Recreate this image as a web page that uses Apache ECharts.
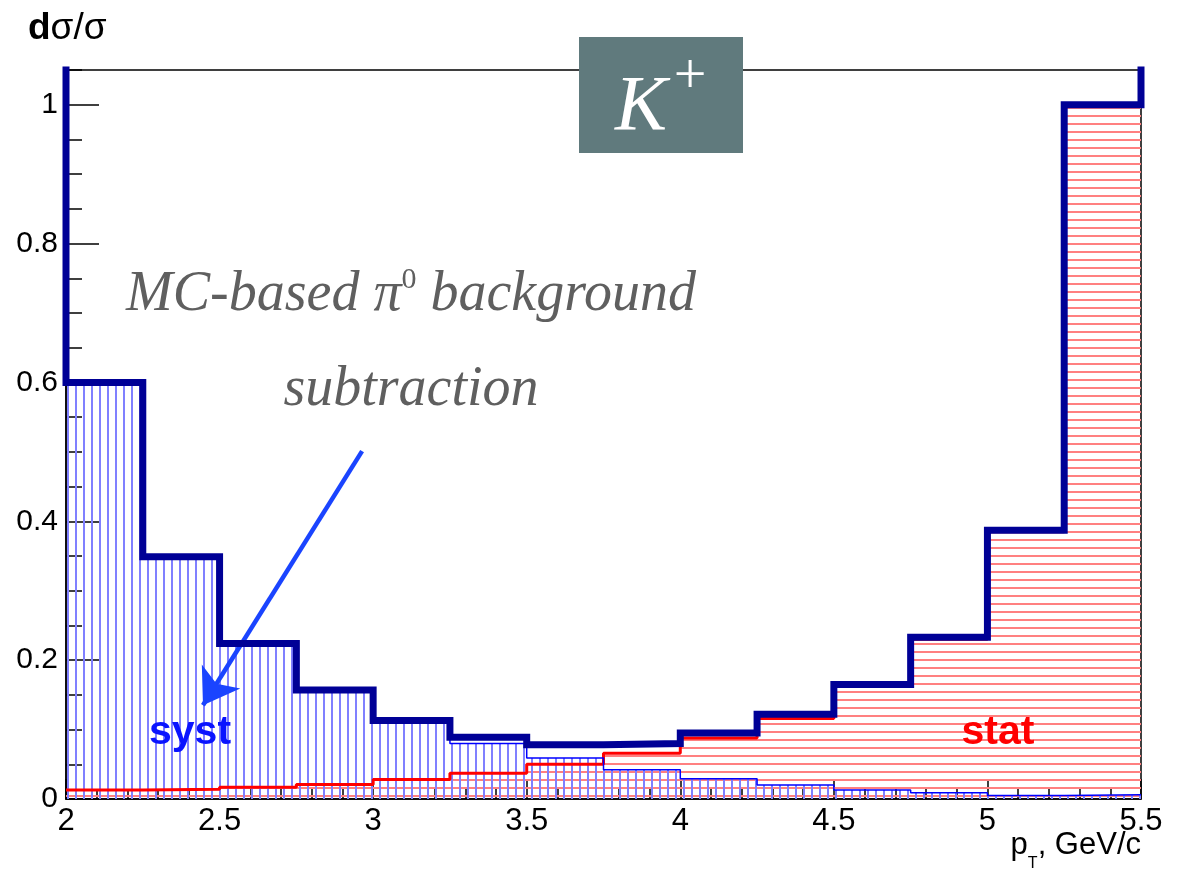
<!DOCTYPE html>
<html>
<head>
<meta charset="utf-8">
<script src="https://cdn.jsdelivr.net/npm/echarts@6/dist/echarts.min.js"></script>
<style>
html,body{margin:0;padding:0;background:#fff}
#main{width:1190px;height:870px}
</style>
</head>
<body>
<div id="main"></div>
<script>
// pT bin edges, GeV/c
var binEdges = [2, 2.25, 2.5, 2.75, 3, 3.25, 3.5, 3.75, 4, 4.25, 4.5, 4.75, 5, 5.25, 5.5];
// relative uncertainties per bin
var totalErr = [0.600, 0.349, 0.224, 0.157, 0.113, 0.089, 0.078, 0.080, 0.095, 0.122, 0.165, 0.233, 0.387, 1.000];
var systErr  = [0.600, 0.349, 0.223, 0.156, 0.110, 0.080, 0.059, 0.042, 0.029, 0.020, 0.013, 0.009, 0.005, 0.006];
var statErr  = [0.013, 0.014, 0.017, 0.021, 0.028, 0.037, 0.050, 0.066, 0.088, 0.116, 0.162, 0.230, 0.385, 1.000];
var xMin = 2, xMax = 5.5, yMin = 0, yMax = 1.05;
// the total histogram's outer edges run off the top of the frame
var edgeTop = 1.3;
// arrow from the annotation down to "syst" (data coords)
var arrowFrom = [2.964, 0.501];
var arrowTo = [2.446, 0.135];

function toSteps(vals) {
    var pts = [];
    for (var i = 0; i < vals.length; i++) pts.push([binEdges[i], vals[i]]);
    pts.push([binEdges[binEdges.length - 1], vals[vals.length - 1]]);
    return pts;
}

// small canvas tile used as hatch fill
function hatch(color, vertical, w) {
    var c = document.createElement('canvas');
    c.width = 8; c.height = 8;
    var ctx = c.getContext('2d');
    ctx.strokeStyle = color;
    ctx.lineWidth = w;
    ctx.beginPath();
    if (vertical) { ctx.moveTo(4, 0); ctx.lineTo(4, 8); }
    else { ctx.moveTo(0, 4); ctx.lineTo(8, 4); }
    ctx.stroke();
    return c;
}

var measureCtx = document.createElement('canvas').getContext('2d');
function textWidth(str, font) {
    measureCtx.font = font;
    return measureCtx.measureText(str).width;
}
function fontSize(font) {
    return parseFloat(font.match(/(\d+)px/)[1]);
}

// lay out a run of text pieces [text, font, dy] around cx with a common baseline y
function textRun(pieces, cx, y, fill, align) {
    var total = 0, out = [], i;
    for (i = 0; i < pieces.length; i++) total += textWidth(pieces[i][0], pieces[i][1]);
    var x = align === 'right' ? cx - total : align === 'left' ? cx : cx - total / 2;
    for (i = 0; i < pieces.length; i++) {
        var f = pieces[i][1];
        out.push({type: 'text', z: 100, style: {x: x, y: y + (pieces[i][2] || 0) - 0.8 * fontSize(f), text: pieces[i][0], font: f,
            fill: fill, align: 'left', verticalAlign: 'top'}});
        x += textWidth(pieces[i][0], f);
    }
    return out;
}

var totalPts = toSteps(totalErr);
totalPts.pop();
totalPts.unshift([xMin, edgeTop]);
totalPts.push([xMax, edgeTop]);

var chart = echarts.init(document.getElementById('main'));
var sans = 'Liberation Sans, Helvetica, Arial, sans-serif';
var serif = 'Liberation Serif, Times New Roman, serif';
var noteFont = 'italic 56px ' + serif;
var noteColor = '#5f5f5f';

var graphics = [
    {type: 'rect', z: 100, shape: {x: 579, y: 37, width: 164, height: 116}, style: {fill: '#607a7d'}},
    {type: 'text', z: 101, style: {x: 641, y: 108, text: 'K', font: 'italic 78px ' + serif, fill: '#fff', align: 'center', verticalAlign: 'middle'}},
    {type: 'text', z: 101, style: {x: 690, y: 78, text: '+', font: '58px ' + serif, fill: '#fff', align: 'center', verticalAlign: 'middle'}},
    {type: 'text', z: 100, style: {x: 190, y: 733, text: 'syst', font: 'bold 41px ' + sans, fill: '#0a14ff', align: 'center', verticalAlign: 'middle'}},
    {type: 'text', z: 100, style: {x: 998, y: 733, text: 'stat', font: 'bold 41px ' + sans, fill: '#ff0000', align: 'center', verticalAlign: 'middle'}}
];
graphics = graphics.concat(
    textRun([['MC-based π', noteFont], ['0', '30px ' + serif, -23], [' background', noteFont]], 411, 312, noteColor),
    textRun([['subtraction', noteFont]], 411, 407, noteColor),
    textRun([['d', 'bold 37px ' + sans], ['σ/σ', '37px ' + sans]], 28, 40, '#000', 'left'),
    textRun([['p', '31px ' + sans], ['T', '16px ' + sans, 13], [', GeV/c', '31px ' + sans]], 1141, 855, '#000', 'right')
);

var option = {
    animation: false,
    backgroundColor: '#fff',
    grid: {left: 66, right: 49, top: 70, bottom: 71, show: true, borderColor: '#000', borderWidth: 1.5},
    xAxis: {
        type: 'value', min: xMin, max: xMax, interval: 0.5,
        axisLine: {lineStyle: {color: '#000', width: 1.5}},
        axisTick: {inside: true, length: 20, lineStyle: {color: '#000', width: 1.5}},
        minorTick: {show: true, splitNumber: 5, length: 10, lineStyle: {color: '#000', width: 1.5}},
        axisLabel: {color: '#000', fontSize: 31, fontFamily: sans, margin: 7},
        splitLine: {show: false}
    },
    yAxis: [{
        type: 'value', min: yMin, max: yMax, interval: 0.2, position: 'left',
        axisLine: {show: true, lineStyle: {color: '#000', width: 1.5}},
        axisTick: {inside: true, length: 33, lineStyle: {color: '#000', width: 1.5}},
        axisLabel: {color: '#000', fontSize: 30, fontFamily: sans, margin: 8, showMaxLabel: false},
        splitLine: {show: false}
    }, {
        type: 'value', min: yMin, max: yMax, interval: 0.05, position: 'left',
        axisLine: {show: false},
        axisTick: {inside: true, length: 16, lineStyle: {color: '#000', width: 1.5}},
        axisLabel: {show: false},
        splitLine: {show: false}
    }],
    series: [{
        name: 'stat fill', type: 'line', step: 'end', symbol: 'none', z: 1,
        data: toSteps(statErr),
        lineStyle: {width: 0},
        areaStyle: {color: {image: hatch('#ff8080', false, 2), repeat: 'repeat'}, opacity: 1}
    }, {
        name: 'syst fill', type: 'line', step: 'end', symbol: 'none', z: 2,
        data: toSteps(systErr),
        lineStyle: {width: 0},
        areaStyle: {color: {image: hatch('#8080ff', true, 2), repeat: 'repeat'}, opacity: 1}
    }, {
        name: 'stat', type: 'line', step: 'end', symbol: 'none', z: 3,
        data: toSteps(statErr),
        lineStyle: {color: '#ff0000', width: 3}
    }, {
        name: 'syst', type: 'line', step: 'end', symbol: 'none', z: 4,
        data: toSteps(systErr),
        lineStyle: {color: '#0000ff', width: 1.5}
    }, {
        name: 'total', type: 'line', step: 'end', symbol: 'none', z: 5,
        data: totalPts,
        lineStyle: {color: '#000096', width: 7, join: 'miter'},
        markLine: {
            silent: true, symbol: ['none', 'arrow'], symbolSize: 34,
            label: {show: false},
            lineStyle: {color: '#1a44ff', width: 4.5, type: 'solid'},
            data: [[{coord: arrowFrom}, {coord: arrowTo}]]
        }
    }],
    graphic: graphics
};
chart.setOption(option);
</script>
</body>
</html>
